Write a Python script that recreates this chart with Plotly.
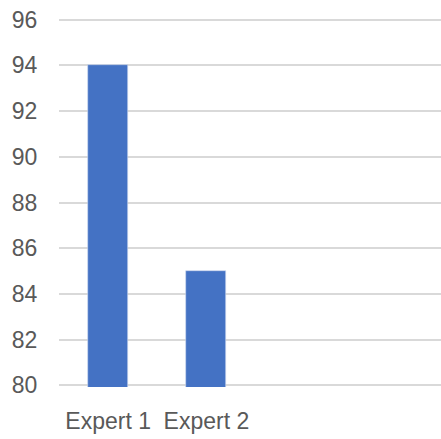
import plotly.graph_objects as go

categories = ["Expert 1", "Expert 2"]
values = [94, 85]
y_ticks = [80, 82, 84, 86, 88, 90, 92, 94, 96]

FONT = "Liberation Sans, Arial, sans-serif"

fig = go.Figure(go.Bar(
    x=list(range(len(categories))),
    y=values,
    width=0.407,
    marker=dict(color="#4472C4", line=dict(color="#D0DAEE", width=0.6)),
))

fig.update_layout(
    width=441, height=439,
    margin=dict(l=59, r=0, t=18, b=52),
    paper_bgcolor="white", plot_bgcolor="white",
    showlegend=False,
    font=dict(family=FONT, color="#595959", size=23),
    bargap=0,
)
fig.update_xaxes(
    tickmode="array", tickvals=list(range(len(categories))), ticktext=categories,
    range=[-0.5, 3.386], showgrid=False, zeroline=False, showline=False,
    ticks="outside", ticklen=13, tickcolor="rgba(0,0,0,0)", tickangle=0,
    automargin=False,
    tickfont=dict(family=FONT, size=23, color="#595959"),
)
fig.update_yaxes(
    range=[79.93, 96.07], tickvals=y_ticks, showgrid=True, gridcolor="#D9D9D9", gridwidth=1.5,
    zeroline=False, showline=False, automargin=False,
    ticks="outside", ticklen=16, tickcolor="rgba(0,0,0,0)",
    tickfont=dict(family=FONT, size=23, color="#595959"),
)

fig.write_html("out.html")
